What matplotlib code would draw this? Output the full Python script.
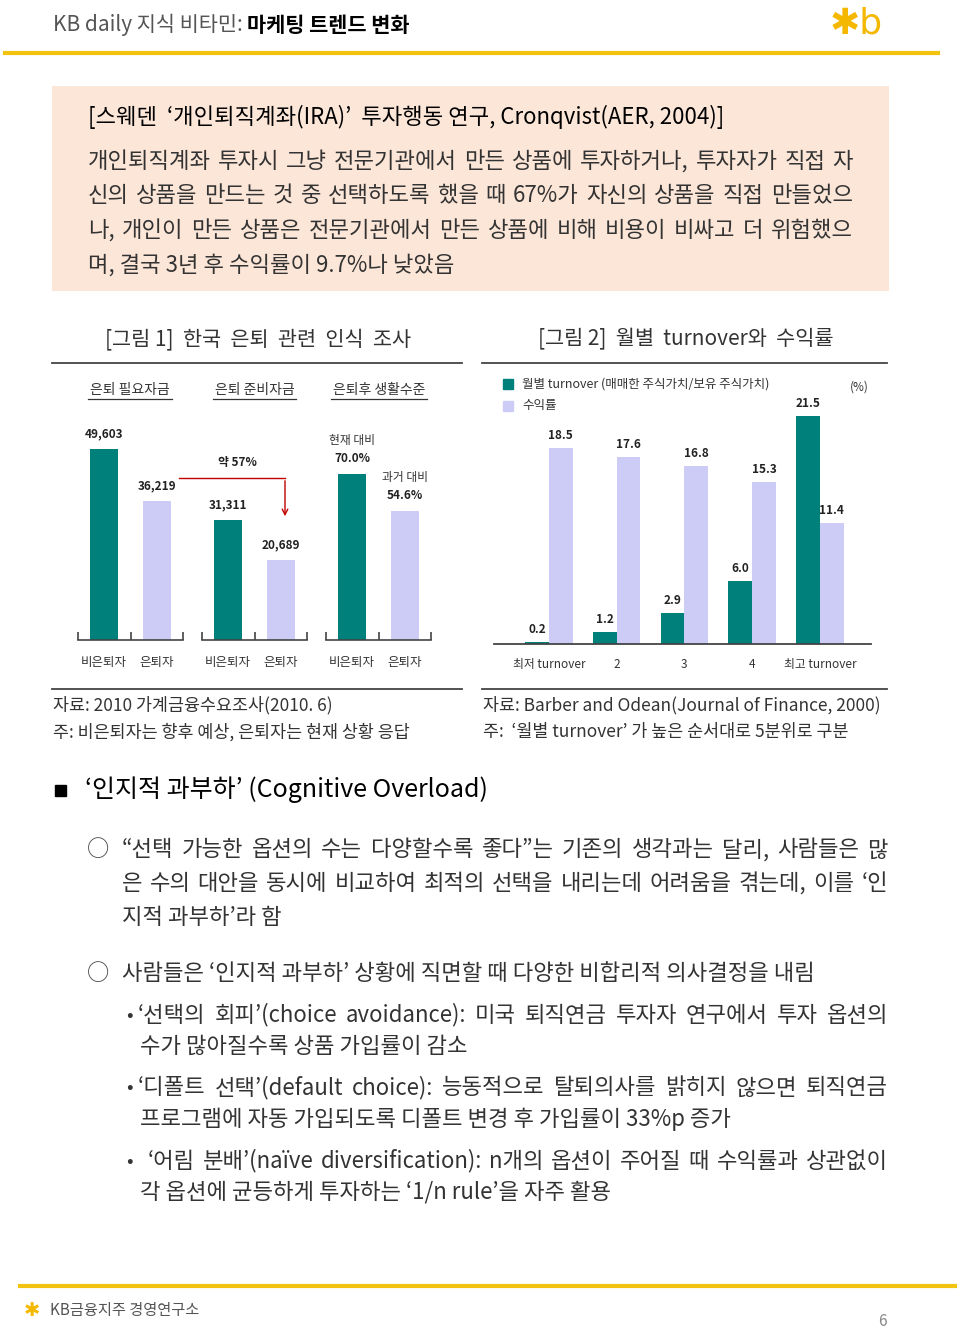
import numpy as np
import matplotlib.pyplot as plt
from matplotlib.lines import Line2D
from matplotlib.patches import Rectangle, FancyArrowPatch

plt.rcParams['font.family'] = ['Noto Sans CJK KR', 'DejaVu Sans']

# 그림 1 데이터
ret_groups = ['은퇴 필요자금', '은퇴 준비자금', '은퇴후 생활수준']
ret_cats = ['비은퇴자', '은퇴자']
non_retired = [49603, 31311, 70.0]
retired = [36219, 20689, 54.6]

# 그림 2 데이터
turn_cats = ['최저 turnover', '2', '3', '4', '최고 turnover']
turnover = [0.2, 1.2, 2.9, 6.0, 21.5]
returns = [18.5, 17.6, 16.8, 15.3, 11.4]

TEAL = '#00807b'
LAV = '#ccccf7'
YEL = '#f2c40f'
GRAY = '#333333'

W, H = 960, 1329
fig = plt.figure(figsize=(W / 100, H / 100), dpi=100)
renderer = fig.canvas.get_renderer()


def fx(x):
    return x / W


def fy(y):
    return 1 - y / H


def txt(x, y, s, **kw):
    kw.setdefault('va', 'center')
    kw.setdefault('color', GRAY)
    return fig.text(fx(x), fy(y), s, **kw)


def justify(x0, x1, y, s, **kw):
    # 양쪽 정렬: 단어 사이 간격을 늘려 x0~x1을 채움
    words = s.split(' ')
    ts = [txt(x0, y, w, **kw) for w in words]
    ws = [t.get_window_extent(renderer).width for t in ts]
    gap = (x1 - x0 - sum(ws)) / max(len(words) - 1, 1)
    pos = x0
    for t, w in zip(ts, ws):
        t.set_x(fx(pos))
        pos += w + gap


def hline(x0, x1, y, **kw):
    fig.add_artist(Line2D([fx(x0), fx(x1)], [fy(y), fy(y)], transform=fig.transFigure, **kw))


# 머리말
t = txt(53, 25, 'KB daily 지식 비타민: ', fontsize=15, color='#555555')
bb = t.get_window_extent(renderer)
txt(bb.x1, 25, '마케팅 트렌드 변화', fontsize=15, color='black', fontweight='bold')
hline(5, 938, 53, color=YEL, lw=3)
txt(856, 23, '✱b', fontsize=26, color='#f5b800', ha='center', family='DejaVu Sans')

# 상자
fig.add_artist(Rectangle((fx(52), fy(291)), 837 / W, 205 / H, transform=fig.transFigure,
                         facecolor='#fce6d8', edgecolor='none'))
txt(88, 117, '[스웨덴  ‘개인퇴직계좌(IRA)’  투자행동 연구, Cronqvist(AER, 2004)]', fontsize=16, color='black')
box_lines = ['개인퇴직계좌 투자시 그냥 전문기관에서 만든 상품에 투자하거나, 투자자가 직접 자',
             '신의 상품을 만드는 것 중 선택하도록 했을 때 67%가 자신의 상품을 직접 만들었으',
             '나, 개인이 만든 상품은 전문기관에서 만든 상품에 비해 비용이 비싸고 더 위험했으',
             '며, 결국 3년 후 수익률이 9.7%나 낮았음']
for i, s in enumerate(box_lines):
    if i < 3:
        justify(88, 853, 161 + i * 34.7, s, fontsize=16)
    else:
        txt(88, 161 + i * 34.7, s, fontsize=16)

# 그림 제목
txt(258, 339, '[그림 1]  한국  은퇴  관련  인식  조사', fontsize=15, ha='center')
txt(686, 339, '[그림 2]  월별  turnover와  수익률', fontsize=15, ha='center')
for x0, x1 in [(52, 462), (482, 887)]:
    hline(x0, x1, 363, color='#444444', lw=1.3)
    hline(x0, x1, 689, color='#444444', lw=1.3)

# 그림 1
ylims = [57225, 57225, 92.9]
for k in range(3):
    left = 78 + k * 124
    ax = fig.add_axes([fx(left), fy(640), 105 / W, 220 / H])
    ax.bar([0.5, 1.5], [non_retired[k], retired[k]], width=0.53, color=[TEAL, LAV])
    ax.set_xlim(0, 2)
    ax.set_ylim(0, ylims[k])
    for s in ['top', 'left', 'right']:
        ax.spines[s].set_visible(False)
    ax.spines['bottom'].set_color('#444444')
    ax.spines['bottom'].set_linewidth(1.2)
    ax.set_yticks([])
    ax.set_xticks([0, 1, 2])
    ax.set_xticklabels([])
    ax.tick_params(axis='x', direction='in', length=6, width=1.2, color='#444444')
    for j, lab in enumerate(ret_cats):
        ax.annotate(lab, (0.5 + j, 0), xytext=(0, -16), textcoords='offset points',
                    ha='center', va='center', fontsize=9, color=GRAY)
    vals = [non_retired[k], retired[k]]
    for j, v in enumerate(vals):
        lab = f'{v:.1f}%' if k == 2 else f'{v:,}'
        ax.annotate(lab, (0.5 + j, v), xytext=(0, 11), textcoords='offset points',
                    ha='center', va='center', fontsize=8.5, fontweight='bold', color='#222222')
    if k == 2:
        for j, v in enumerate(vals):
            ax.annotate(['현재 대비', '과거 대비'][j], (0.5 + j, v), xytext=(0, 24),
                        textcoords='offset points', ha='center', va='center', fontsize=8.5, color=GRAY)

# 그룹 제목 (밑줄)
for g, (x0, x1) in zip(ret_groups, [(88, 172), (213, 296), (331, 427)]):
    txt((x0 + x1) / 2, 390, g, fontsize=10, ha='center')
    hline(x0, x1, 398.5, color=GRAY, lw=0.9)

# 화살표
hline(179, 285, 478, color='#c00000', lw=1)
fig.add_artist(FancyArrowPatch((fx(285), fy(478)), (fx(285), fy(519)), transform=fig.transFigure,
                               arrowstyle='->', mutation_scale=10, color='#c00000', lw=1))
txt(237, 463, '약 57%', fontsize=8.5, ha='center', fontweight='bold', color='#222222')

# 그림 2
ax2 = fig.add_axes([fx(494), fy(644.3), 376.7 / W, 244.3 / H])
x = np.arange(len(turn_cats))
ax2.bar(x - 0.175, turnover, width=0.35, color=TEAL)
ax2.bar(x + 0.175, returns, width=0.35, color=LAV)
ax2.set_xlim(-0.81, 4.75)
ax2.set_ylim(0, 23.0)
for s in ['top', 'left', 'right']:
    ax2.spines[s].set_visible(False)
ax2.spines['bottom'].set_color('#444444')
ax2.spines['bottom'].set_linewidth(1.3)
ax2.set_yticks([])
ax2.set_xticks(x)
ax2.set_xticklabels(turn_cats, fontsize=8.5, color=GRAY)
ax2.tick_params(axis='x', length=0, pad=10)
for i in range(len(x)):
    ax2.annotate(f'{turnover[i]:.1f}', (x[i] - 0.175, turnover[i]), xytext=(0, 9),
                 textcoords='offset points', ha='center', va='center', fontsize=8.5,
                 fontweight='bold', color='#222222')
    ax2.annotate(f'{returns[i]:.1f}', (x[i] + 0.175, returns[i]), xytext=(0, 9),
                 textcoords='offset points', ha='center', va='center', fontsize=8.5,
                 fontweight='bold', color='#222222')

# 범례
fig.add_artist(Rectangle((fx(503), fy(389)), 10 / W, 10 / H, transform=fig.transFigure, color=TEAL))
fig.add_artist(Rectangle((fx(503), fy(411)), 10 / W, 10 / H, transform=fig.transFigure, color=LAV))
txt(522, 384, '월별 turnover (매매한 주식가치/보유 주식가치)', fontsize=9)
txt(522, 406, '수익률', fontsize=9)
txt(859, 387, '(%)', fontsize=8.5, ha='center')

# 출처
txt(53, 705, '자료: 2010 가계금융수요조사(2010. 6)', fontsize=12.5)
txt(53, 732, '주: 비은퇴자는 향후 예상, 은퇴자는 현재 상황 응답', fontsize=12.5)
txt(483, 705, '자료: Barber and Odean(Journal of Finance, 2000)', fontsize=12.5)
txt(483, 732, '주:  ‘월별 turnover’ 가 높은 순서대로 5분위로 구분', fontsize=12.5)

# 본문
fig.add_artist(Rectangle((fx(55), fy(796)), 11 / W, 11 / H, transform=fig.transFigure, color='black'))
txt(85, 790, '‘인지적 과부하’ (Cognitive Overload)', fontsize=18, color='black', fontweight='medium')

txt(98, 850, '○', fontsize=16, ha='center', color='#444444')
body1 = ['“선택 가능한 옵션의 수는 다양할수록 좋다”는 기존의 생각과는 달리, 사람들은 많',
         '은 수의 대안을 동시에 비교하여 최적의 선택을 내리는데 어려움을 겪는데, 이를 ‘인',
         '지적 과부하’라 함']
for i, s in enumerate(body1):
    if i < 2:
        justify(122, 888, 850 + i * 34, s, fontsize=16)
    else:
        txt(122, 850 + i * 34, s, fontsize=16)

txt(98, 974, '○', fontsize=16, ha='center', color='#444444')
txt(122, 974, '사람들은 ‘인지적 과부하’ 상황에 직면할 때 다양한 비합리적 의사결정을 내림', fontsize=16)

bullets = [['‘선택의 회피’(choice avoidance): 미국 퇴직연금 투자자 연구에서 투자 옵션의',
            '수가 많아질수록 상품 가입률이 감소'],
           ['‘디폴트 선택’(default choice): 능동적으로 탈퇴의사를 밝히지 않으면 퇴직연금',
            '프로그램에 자동 가입되도록 디폴트 변경 후 가입률이 33%p 증가'],
           ['‘어림 분배’(naïve diversification): n개의 옵션이 주어질 때 수익률과 상관없이',
            '각 옵션에 균등하게 투자하는 ‘1/n rule’을 자주 활용']]
for b, (l1, l2) in enumerate(bullets):
    y0 = 1015 + b * 73
    txt(129, y0, '•', fontsize=14, ha='center')
    justify(138 if b < 2 else 148, 888, y0, l1, fontsize=16)
    txt(140, y0 + 31, l2, fontsize=16)

# 꼬리말
hline(20, 955, 1286, color=YEL, lw=3)
txt(32, 1311, '✱', fontsize=14, color='#f5b800', ha='center', family='DejaVu Sans')
txt(50, 1311, 'KB금융지주 경영연구소', fontsize=11, color='#555555')
txt(882, 1321, '6', fontsize=11, color='#888888', ha='center')

fig.savefig('out.png', dpi=100)
